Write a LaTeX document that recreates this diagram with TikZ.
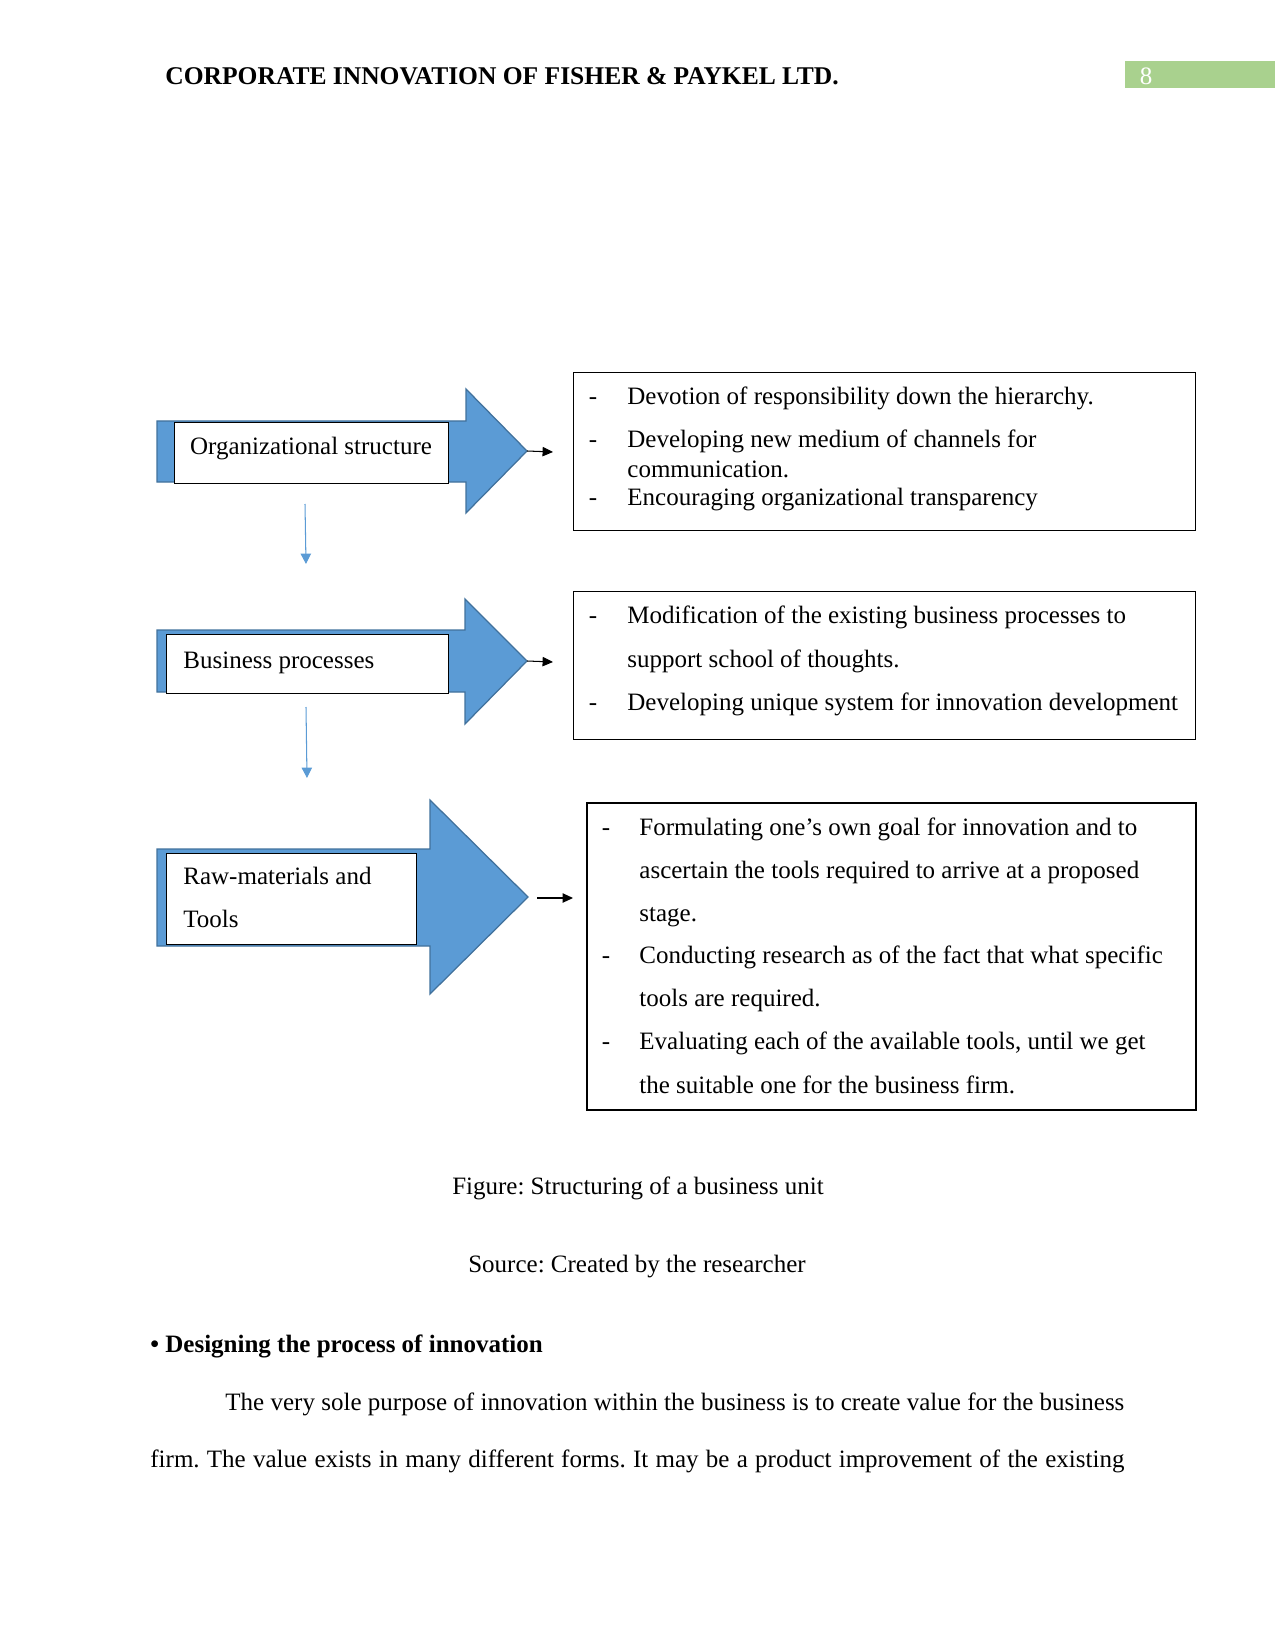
\documentclass[tikz,border=0pt]{standalone}
\usepackage{fontspec}
\setmainfont{Liberation Serif}
\usetikzlibrary{arrows.meta}
\definecolor{arrowblue}{HTML}{5B9BD5}
\definecolor{arrowedge}{HTML}{41719C}
\definecolor{headgreen}{HTML}{A9D18E}
\frenchspacing
\begin{document}
\frenchspacing
\begin{tikzpicture}[x=0.48pt,y=-0.48pt,
  font=\fontsize{12}{14}\selectfont,
  bigarrow/.style={fill=arrowblue,draw=arrowedge,line width=0.6pt,line join=miter},
  labelbox/.style={draw=black,fill=white,line width=0.7pt,inner sep=0pt,anchor=north west},
  infobox/.style={draw=black,line width=0.5pt,inner sep=0pt,anchor=north west},
  txt/.style={anchor=base west,inner sep=0pt,yshift=-0.96pt},
  ctxt/.style={anchor=base,inner sep=0pt,yshift=-0.96pt},
  link/.style={-{Triangle[length=5pt,width=4.5pt]},line width=0.5pt,black},
  downlink/.style={draw=arrowblue,-{Triangle[length=5pt,width=5pt]},line width=0.5pt}]
\useasboundingbox (0,0) rectangle (1275,1650);

% header
\node[txt,font=\fontsize{12.25}{14}\selectfont\bfseries] (head) at (165,83) {CORPORATE INNOVATION OF FISHER \& PAYKEL LTD.};
\fill[headgreen] (1125,61) rectangle (1275,88);
\node[ctxt,text=white] (pnum) at (1146,83) {8};

% big blue arrows
\draw[bigarrow] (157,421) -- (466,421) -- (466,389) -- (527,451) -- (466,513) -- (466,482) -- (157,482) -- cycle;
\draw[bigarrow] (157,630) -- (465,630) -- (465,599) -- (527,661) -- (465,724) -- (465,692) -- (157,692) -- cycle;
\draw[bigarrow] (157,849) -- (430,849) -- (430,800) -- (528,897) -- (430,994) -- (430,946) -- (157,946) -- cycle;
\coordinate (tip1) at (527,451);
\coordinate (tip2) at (527,661);
\coordinate (tip3) at (537,898);

% white label boxes
\node[labelbox,minimum width={274*0.48pt},minimum height={61*0.48pt}] (lb1) at (174,422) {};
\node[labelbox,minimum width={282*0.48pt},minimum height={59*0.48pt}] (lb2) at (166,634) {};
\node[labelbox,minimum width={250*0.48pt},minimum height={91*0.48pt}] (lb3) at (166,853) {};
\node[ctxt] (t1) at (311,452) {Organizational structure};
\node[txt] (t2) at (183,666) {Business processes};
\node[txt] (t3a) at (183,882) {Raw-materials and};
\node[txt] (t3b) at (183,925) {Tools};

% down arrows
\coordinate (d1s) at (305,504);
\coordinate (d1e) at (306,564);
\coordinate (d2s) at (306,707);
\coordinate (d2e) at (307,778);
\draw[downlink] (d1s) -- (d1e);
\draw[downlink] (d2s) -- (d2e);

% info boxes
\node[infobox,minimum width={622*0.48pt},minimum height={158*0.48pt}] (ib1) at (573,372) {};
\node[infobox,minimum width={622*0.48pt},minimum height={148*0.48pt}] (ib2) at (573,591) {};
\node[infobox,line width=1pt,minimum width={609*0.48pt},minimum height={307*0.48pt}] (ib3) at (586,802) {};

% black links
\coordinate (e1) at (553,452);
\coordinate (e2) at (553,662);
\coordinate (e3) at (573,898);
\draw[link] (tip1) -- (e1);
\draw[link] (tip2) -- (e2);
\draw[link] (tip3) -- (e3);

% box 1 text
\node[ctxt] at (593,403) {-};
\node[txt] at (627,403) {Devotion of responsibility down the hierarchy.};
\node[ctxt] at (593,446) {-};
\node[txt] at (627,446) {Developing new medium of channels for};
\node[txt] at (627,475) {communication.};
\node[ctxt] at (593,503) {-};
\node[txt] at (627,503) {Encouraging organizational transparency};

% box 2 text
\node[ctxt] at (593,621) {-};
\node[txt] at (627,621) {Modification of the existing business processes to};
\node[txt] at (627,665) {support school of thoughts.};
\node[ctxt] at (593,708) {-};
\node[txt] at (627,708) {Developing unique system for innovation development};

% box 3 text
\node[ctxt] at (606,833) {-};
\node[txt] at (639,833) {Formulating one’s own goal for innovation and to};
\node[txt] at (639,876) {ascertain the tools required to arrive at a proposed};
\node[txt] at (639,919) {stage.};
\node[ctxt] at (606,961) {-};
\node[txt] at (639,961) {Conducting research as of the fact that what specific};
\node[txt] at (639,1004) {tools are required.};
\node[ctxt] at (606,1047) {-};
\node[txt] at (639,1047) {Evaluating each of the available tools, until we get};
\node[txt] at (639,1091) {the suitable one for the business firm.};

% captions
\node[ctxt] (cap) at (638,1192) {Figure: Structuring of a business unit};
\node[ctxt] (src) at (637,1270) {Source: Created by the researcher};

% body text
\node[txt,font=\fontsize{12}{14}\selectfont\bfseries] (sec) at (150,1350) {• Designing the process of innovation};
\node[txt] (p1) at (225,1408) {\makebox[431.5pt][s]{The very sole purpose of innovation within the business is to create value for the business}};
\node[txt] (p2) at (150,1465) {\makebox[467.5pt][s]{firm. The value exists in many different forms. It may be a product improvement of the existing}};
\end{tikzpicture}
\end{document}
